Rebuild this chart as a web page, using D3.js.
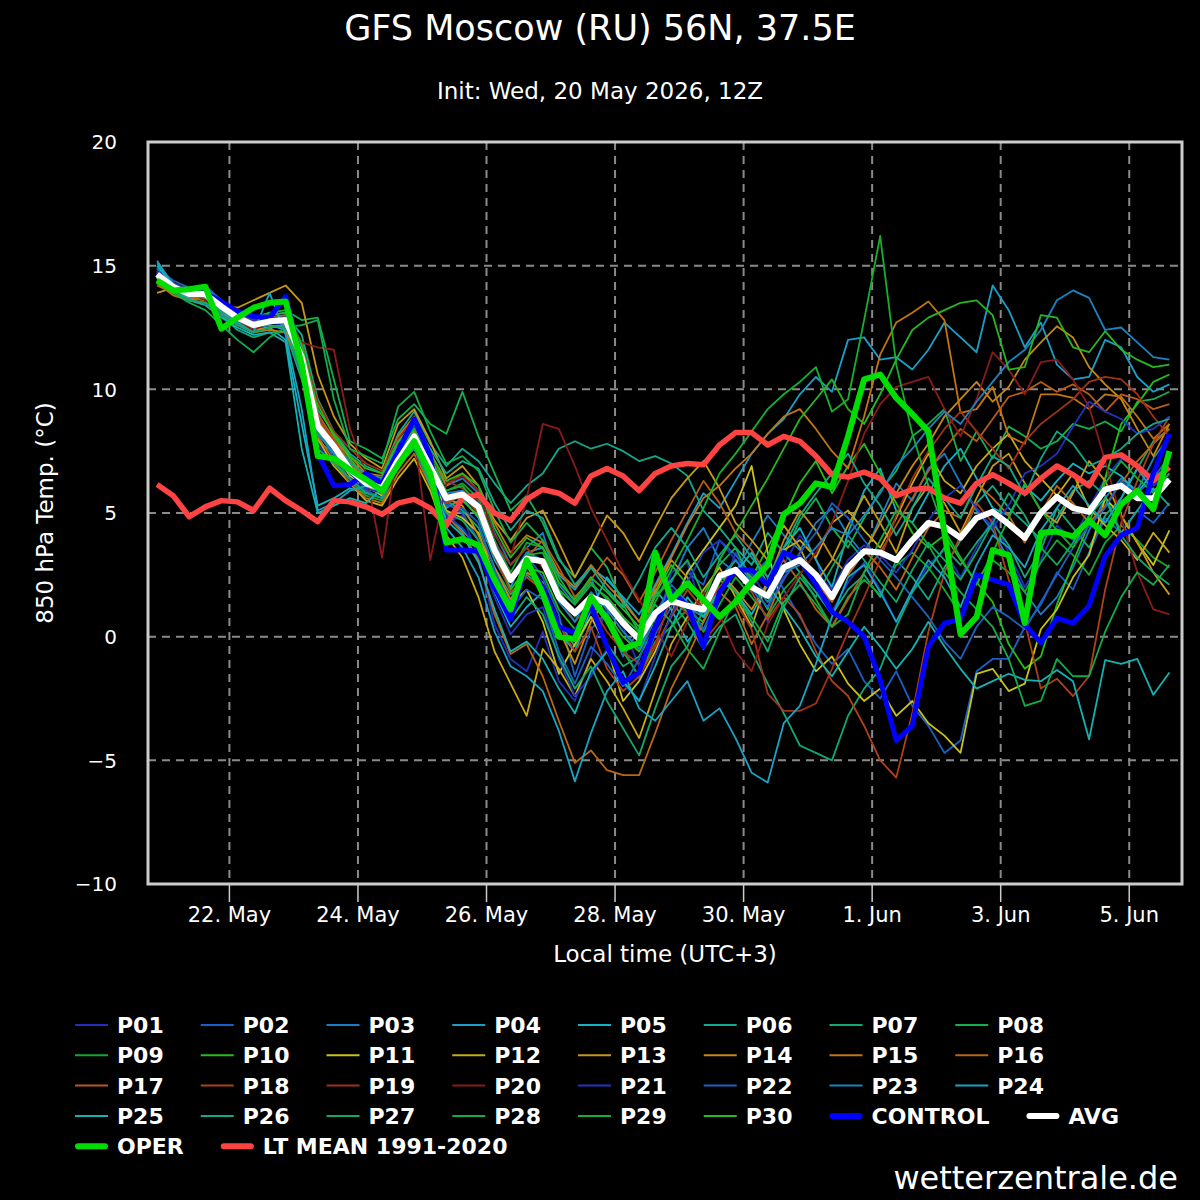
<!DOCTYPE html>
<html>
<head>
<meta charset="utf-8">
<script src="https://cdn.jsdelivr.net/npm/d3@7"></script>
<style>
  body { margin: 0; background: #000; }
  svg { display: block; font-family: "DejaVu Sans", sans-serif; }
</style>
</head>
<body>
<div id="chart"></div>
<script>
// first forecast step in local time (UTC+3), then every 6 hours
var startTime = "2026-05-20T21:00:00Z",
  stepHours = 6,
  firstTick = "2026-05-22T00:00:00Z";

var titleText = "GFS Moscow (RU) 56N, 37.5E",
  subtitleText = "Init: Wed, 20 May 2026, 12Z";

var yTicks = [-10, -5, 0, 5, 10, 15, 20];

var memberNames = ["P01","P02","P03","P04","P05","P06","P07","P08","P09","P10",
  "P11","P12","P13","P14","P15","P16","P17","P18","P19","P20",
  "P21","P22","P23","P24","P25","P26","P27","P28","P29","P30"];

var memberColors = ["#1f2fbf","#1a5fc7","#1a7ec4","#1b9fc9","#14b3c4","#12a98c","#11a972","#13b04e","#14a832","#24bf18",
  "#cbc314","#c9ab12","#c79912","#c58914","#c27512","#b96712","#b85a18","#ad4218","#a03218","#8b1a1a",
  "#2233c0","#1b62c2","#1a83c2","#1aa3c4","#14b3b3","#12a98a","#12a86a","#13ac4a","#15b030","#25b820"];

var p01 = [14.8,14.1,13.9,14.0,13.4,12.8,12.6,12.7, 12.6,10.5,7.8,6.9,6.4,5.9,5.6,7.4,
  8.5,6.2,4.6,4.9,3.2,0.5,-0.9,-1.4, 0.2,-1.8,-2.6,-0.8,1.3,0.4,-1.2,0.2,
  2.6,3.0,0.9,1.6,3.4,2.1,0.6,2.9, 4.1,3.2,1.0,2.2,3.0,1.9,0.6,1.8,
  2.9,3.5,2.4,3.6,4.8,3.4,2.0,3.1, 4.5,3.9,5.2,6.4,7.2,6.9,6.1,6.6];
var p02 = [14.7,14.2,13.8,13.7,13.3,13.0,12.7,12.9, 12.9,11.8,9.1,7.6,6.9,6.4,6.3,7.2,
  8.0,7.1,5.4,5.0,3.9,2.6,1.4,3.3, 2.4,0.9,-1.6,0.3,1.0,-0.4,-1.7,0.1,
  1.2,2.6,2.1,3.9,3.3,2.5,3.1,1.9, 0.8,-0.3,-1.1,-0.5,-1.8,-2.5,-1.4,-2.8,
  -3.6,-4.7,-4.2,-1.4,-0.9,-0.9,0.4,1.3, 2.6,1.9,3.4,4.8,4.2,5.1,4.6,5.4];
var p03 = [14.5,14.0,13.9,13.9,13.2,12.9,12.5,12.6, 12.5,11.0,8.8,7.9,7.1,6.3,6.1,7.8,
  8.7,7.2,6.1,6.4,5.8,4.2,2.9,3.6, 4.2,2.1,1.3,2.4,0.6,-0.8,0.3,1.7,
  2.2,3.6,4.4,3.1,2.6,3.8,4.9,4.1, 3.5,4.6,5.2,4.1,3.3,4.8,6.2,5.5,
  6.8,7.4,6.2,5.1,4.3,3.1,1.8,0.9, 1.6,2.8,4.3,5.6,6.4,5.9,7.2,8.1];
var p04 = [15.1,14.3,13.9,13.6,13.0,12.8,12.5,12.6, 12.4,10.8,8.2,7.6,6.8,6.0,5.8,7.0,
  7.9,6.5,5.2,5.6,4.8,3.1,2.0,3.4, 3.6,2.5,1.9,2.8,2.3,1.6,0.9,2.1,
  3.3,4.6,5.8,5.2,6.3,7.4,8.2,8.8, 9.8,10.5,9.9,12.0,12.1,11.2,11.3,10.8,
  11.6,12.7,12.1,11.5,14.2,13.2,11.7,12.7, 11.0,10.4,10.5,12.0,11.7,10.5,9.9,10.2];
var p05 = [14.9,14.0,13.6,13.5,13.1,12.6,12.3,12.5, 12.0,8.6,5.3,5.6,6.0,5.8,6.2,7.6,
  8.3,6.6,5.0,4.3,3.6,1.8,0.4,1.2, 1.8,0.2,-0.6,1.1,2.4,1.5,0.6,1.9,
  1.1,-0.2,0.6,2.3,1.8,0.9,2.1,3.6, 4.4,3.1,2.0,4.2,5.9,6.8,5.1,4.6,
  5.8,6.9,7.6,6.4,5.2,4.9,6.1,5.5, 6.3,7.0,6.6,6.9,6.5,5.8,6.7,6.2];
var p06 = [14.6,14.1,13.8,13.9,13.4,13.0,12.7,12.9, 13.0,12.2,9.6,8.3,7.4,6.9,6.6,8.2,
  9.1,7.8,6.9,7.6,7.1,6.2,5.4,6.1, 6.6,7.6,7.9,7.6,7.8,7.5,7.1,7.3,
  7.0,6.5,5.1,4.4,3.6,2.9,4.2,3.4, 2.6,1.8,0.9,1.9,2.5,1.6,3.1,2.4,
  1.5,2.8,3.9,5.4,6.1,5.2,4.6,3.9, 4.8,5.9,6.3,5.7,4.2,5.1,6.0,5.3];
var p07 = [14.4,13.9,13.6,13.5,13.0,12.4,12.1,12.3, 12.3,10.4,7.9,7.4,6.6,6.0,5.9,6.8,
  7.7,6.3,5.5,5.1,4.4,2.8,1.7,2.5, 2.0,0.6,-0.4,0.8,-0.3,-1.2,-0.8,0.4,
  1.4,0.6,-0.5,0.4,0.9,-0.6,-1.9,-3.1, -4.4,-4.7,-5.0,-3.2,-2.1,-1.3,0.4,1.8,
  2.7,3.6,2.9,3.8,4.6,3.7,2.4,3.5, 5.2,4.4,3.6,4.9,5.6,6.8,7.9,8.4];
var p08 = [14.7,14.2,13.9,14.1,13.6,13.2,12.9,13.1, 13.2,12.8,12.9,10.4,7.9,7.6,7.2,8.8,
  9.4,8.6,8.2,9.9,8.1,6.6,5.1,5.7, 4.6,3.1,2.4,3.6,2.8,1.3,0.2,1.6,
  2.3,3.1,1.7,2.9,3.6,2.2,1.1,3.3, 4.7,5.6,4.4,3.6,4.8,5.9,6.7,8.1,
  8.6,9.2,7.1,8.3,7.2,8.5,8.1,7.6, 7.9,8.6,8.4,8.7,8.3,9.5,9.6,9.9];
var p09 = [14.6,14.0,13.7,13.6,13.2,12.7,12.4,12.5, 12.6,11.5,8.3,7.4,6.3,5.7,5.5,6.9,
  7.6,6.8,5.9,6.2,5.6,3.9,2.6,3.8, 3.6,1.9,0.8,1.4,0.6,-0.6,-1.6,-0.2,
  0.4,1.1,0.2,1.3,2.4,1.6,0.8,1.9, 2.6,1.5,0.4,1.6,2.3,1.7,2.9,3.4,
  2.8,1.9,0.9,2.3,3.1,2.6,1.8,3.0, 3.9,3.3,2.5,3.8,4.5,3.9,3.2,2.8];
var p10 = [14.5,14.1,13.9,13.8,13.3,12.9,12.6,12.8, 12.9,11.9,9.4,8.1,7.2,6.4,6.2,7.5,
  8.4,7.3,5.8,5.5,4.9,3.3,1.9,2.8, 2.6,1.1,0.3,1.2,0.9,0.0,-0.6,0.7,
  1.7,1.0,0.6,2.2,3.1,2.4,3.6,4.8, 6.2,7.1,5.8,6.9,7.8,6.6,5.4,4.2,
  3.6,4.1,3.1,2.2,1.4,-0.3,-1.3,-0.8, 1.3,3.0,4.6,6.4,8.6,9.4,10.3,10.6];
var p11 = [14.4,13.9,13.8,13.7,13.2,12.8,12.5,12.7, 12.7,11.6,8.6,7.5,6.5,6.1,5.7,6.9,
  7.9,6.4,5.1,4.8,4.2,2.4,1.3,1.9, 0.6,-1.5,-0.3,0.8,-0.4,-2.6,-1.8,-0.6,
  0.9,2.6,3.5,4.4,5.3,6.9,3.4,1.1, -0.3,-1.4,-0.8,-1.9,-2.6,-2.1,-3.2,-2.6,
  -3.5,-4.0,-4.7,-1.5,-1.3,-2.2,-1.9,0.3, 1.1,2.4,3.3,5.6,4.9,3.8,2.9,4.3];
var p12 = [14.5,14.0,13.7,13.8,13.3,12.9,12.6,12.8, 12.9,11.7,8.0,6.9,6.2,5.5,5.3,6.4,
  7.2,5.9,4.1,3.2,1.6,-0.6,-1.9,-3.2, -0.5,-1.3,-2.4,-0.9,-1.8,-2.9,-4.1,-2.2,
  -0.3,0.8,1.9,2.8,1.6,0.4,2.3,3.5, 3.9,3.2,4.6,5.1,4.3,3.6,4.8,6.2,
  7.4,6.3,5.8,6.9,7.6,8.2,7.1,6.4, 5.7,6.6,5.2,4.5,3.9,3.1,4.2,3.4];
var p13 = [13.9,14.1,13.6,13.7,13.4,13.3,13.6,13.9, 14.2,13.5,10.6,8.9,7.8,7.2,6.8,8.6,
  9.2,7.9,6.4,6.9,6.1,4.7,3.9,4.8, 5.1,3.8,2.4,3.6,4.9,4.2,3.1,4.4,
  5.6,6.4,7.1,6.0,4.6,3.9,3.1,4.5, 3.6,2.2,3.1,4.5,5.7,4.6,3.4,5.2,
  6.1,5.4,4.2,5.6,6.9,7.4,6.2,5.1, 4.6,5.8,7.1,6.3,4.9,3.8,2.6,1.7];
var p14 = [14.6,14.2,13.9,13.7,13.1,12.7,12.4,12.5, 12.6,11.2,8.4,7.7,6.9,6.5,6.3,7.6,
  8.3,6.9,5.6,5.3,4.1,2.8,1.5,2.6, 2.2,0.3,-1.1,0.6,1.6,0.8,-0.2,1.8,
  3.1,2.4,1.2,2.6,1.9,1.1,2.2,3.9, 5.1,4.3,3.2,2.5,3.4,4.6,5.8,6.9,
  7.8,8.9,9.6,10.3,9.5,10.1,11.2,11.9, 12.55,12.1,10.9,10.2,9.6,8.4,7.3,8.6];
var p15 = [14.3,13.8,13.6,13.5,13.0,12.6,12.3,12.4, 12.3,10.9,8.7,7.9,7.3,6.6,6.5,8.1,
  8.9,7.5,6.1,6.6,5.9,4.6,3.4,4.1, 3.8,2.6,2.0,2.9,2.1,1.4,0.6,2.0,
  3.2,4.5,5.6,6.1,6.8,7.4,8.2,8.9, 9.2,8.4,7.5,6.8,8.9,11.4,12.7,13.1,
  13.55,12.8,9.05,9.2,10.1,8.1,7.8,9.8, 9.8,9.65,9.2,9.8,9.7,8.9,8.0,8.6];
var p16 = [14.2,13.9,13.7,13.6,13.2,12.8,12.5,12.7, 12.8,11.4,8.1,7.1,6.2,5.6,5.4,6.6,
  7.4,6.1,4.9,4.2,3.1,0.9,-0.7,-0.3, -1.6,-3.4,-5.1,-4.6,-5.4,-5.6,-5.6,-3.9,
  -2.1,-0.8,0.6,1.8,1.2,-0.3,0.9,2.4, 3.1,2.2,1.4,2.6,3.5,2.8,1.9,3.2,
  4.4,5.1,4.8,6.2,5.6,4.9,3.8,5.0, 6.1,5.4,4.6,5.3,6.2,7.1,7.8,8.4];
var p17 = [14.5,14.0,13.8,13.9,13.4,13.0,12.8,12.9, 13.0,11.9,9.0,8.0,7.0,6.5,6.3,7.3,
  8.1,7.0,5.7,5.9,5.2,3.7,2.5,3.2, 3.9,2.8,1.6,2.3,3.2,2.5,1.4,2.6,
  3.9,5.1,6.3,5.4,4.2,3.5,2.4,3.1, 2.2,1.1,0.4,1.5,2.6,3.4,4.5,5.6,
  6.7,7.6,8.4,7.9,8.8,9.7,9.9,10.3, 9.9,10.2,9.8,9.1,9.8,9.6,9.2,9.4];
var p18 = [14.7,14.3,14.0,13.9,13.3,12.9,12.6,12.8, 12.9,11.6,8.9,7.9,6.8,6.1,5.9,7.3,
  8.0,6.6,5.4,5.7,5.0,3.3,1.8,2.4, 1.9,0.5,-0.6,0.4,-1.3,-2.2,-1.6,-0.4,
  0.8,1.9,1.1,2.0,2.8,1.8,0.7,1.6, 0.9,-0.6,-1.8,-2.4,-3.6,-5.0,-5.7,-3.1,
  0.2,2.6,4.1,5.4,4.6,2.3,0.6,-2.1, -1.7,-2.4,-1.6,1.9,4.6,6.3,7.8,8.9];
var p19 = [14.6,14.1,13.8,13.8,13.2,12.9,12.6,12.8, 12.9,11.8,9.5,8.3,7.6,7.0,6.7,8.0,
  8.8,7.4,6.3,6.0,5.5,3.8,2.9,3.6, 2.8,1.6,0.6,1.3,0.2,-0.6,-1.1,-0.3,
  1.6,0.9,-0.2,0.6,1.4,0.3,-2.3,-3.0, -3.0,-2.7,-1.3,0.2,1.6,3.1,4.9,6.4,
  7.5,8.4,9.1,8.3,7.6,6.8,7.9,8.6, 9.1,9.6,10.3,10.5,10.4,9.8,8.9,8.1];
var p20 = [14.4,14.2,13.9,13.6,13.1,12.7,12.4,12.7, 12.9,11.9,11.7,11.6,8.4,6.6,3.2,7.8,
  8.2,3.1,6.2,6.5,5.9,4.1,3.2,5.6, 8.6,8.4,6.9,5.2,3.9,2.6,1.5,0.4,
  -0.8,0.6,1.8,0.9,-0.6,-1.4,0.5,1.6, 2.5,3.4,4.6,6.3,8.2,9.4,10.1,10.3,
  10.5,9.2,8.1,9.6,11.5,10.8,9.8,11.1, 11.2,10.4,9.3,7.1,4.8,2.6,1.1,0.9];
var p21 = [14.8,14.3,14.0,13.9,13.5,13.1,12.8,12.9, 12.9,11.4,8.6,7.5,6.6,6.0,5.8,7.1,
  7.9,6.5,4.9,4.4,3.5,1.6,0.1,0.9, 1.2,-0.9,-2.4,-1.6,-0.5,-1.9,-2.6,-0.8,
  0.9,2.2,3.4,3.9,3.1,2.5,1.6,2.4, 3.3,2.6,1.9,3.1,3.7,3.3,2.6,3.5,
  4.7,5.6,6.1,5.2,4.4,5.3,6.6,6.9, 7.4,8.5,9.5,9.1,8.8,8.2,8.4,8.9];
var p22 = [14.9,14.4,14.1,14.2,13.6,13.2,12.9,13.0, 13.1,11.7,8.4,7.2,6.3,5.9,5.6,7.0,
  7.8,6.7,5.3,5.2,4.6,2.7,1.1,1.9, 1.5,-0.6,-1.9,-0.4,-1.1,-2.0,-0.9,0.9,
  2.1,1.4,0.3,1.7,2.6,1.9,1.2,2.3, 3.4,4.2,5.4,4.8,3.9,3.1,2.4,1.6,
  0.8,-0.2,-0.9,0.4,1.2,0.8,0.3,1.4, 2.5,3.6,4.5,5.2,6.3,5.8,6.4,7.3];
var p23 = [14.6,14.1,13.8,13.8,13.3,12.9,12.7,12.8, 12.7,11.1,8.2,7.4,6.6,6.2,5.9,7.3,
  8.2,6.9,5.8,5.9,5.4,3.8,2.4,3.4, 3.1,1.4,0.6,1.8,1.1,0.2,-0.5,0.9,
  1.9,1.2,0.8,2.4,3.1,2.2,1.4,2.6, 2.9,3.6,4.4,4.1,4.9,5.8,6.9,7.6,
  8.4,9.1,8.6,9.5,10.3,11.1,11.6,12.4, 13.6,14.0,13.7,12.4,12.5,11.9,11.3,11.2];
var p24 = [15.2,14.2,13.7,13.8,13.1,12.7,12.3,13.9, 12.2,9.2,5.1,5.4,5.9,6.1,5.9,7.1,
  7.9,6.1,4.4,3.6,2.4,0.2,-1.2,-1.6, -2.2,-3.8,-5.85,-3.9,-2.2,-1.4,-2.9,-3.4,
  -2.6,-1.8,-3.4,-2.9,-4.1,-5.5,-5.9,-3.5, -2.8,-1.1,0.8,2.4,2.9,1.8,0.6,1.9,
  3.1,2.4,1.2,2.9,4.1,3.6,2.8,4.3, 5.2,6.1,5.3,4.6,5.6,6.8,5.9,6.4];
var p25 = [15.0,14.2,13.6,13.4,12.9,12.5,12.2,12.3, 11.9,7.6,5.0,5.3,5.6,5.4,6.0,7.2,
  8.1,6.4,4.7,4.1,3.0,1.1,-0.6,-0.2, -0.9,-2.1,-3.1,-1.4,-0.6,-1.8,-2.6,-1.2,
  0.4,1.6,0.8,1.9,2.6,3.4,2.1,1.2, 0.3,-0.8,-1.6,-0.6,0.4,-0.4,-1.3,-0.5,
  0.6,-0.4,-1.3,-2.1,-1.8,-1.5,-1.75,-1.8, -1.35,-1.8,-4.15,-0.95,-1.1,-0.9,-2.35,-1.45];
var p26 = [14.7,14.2,13.9,13.8,13.2,12.8,12.5,12.7, 12.8,11.5,8.4,7.8,7.0,6.6,6.4,7.9,
  8.6,7.6,6.6,7.1,6.8,5.4,4.3,5.1, 4.8,3.2,2.1,2.8,1.9,1.2,2.3,3.6,
  4.4,3.6,2.4,3.3,4.1,3.2,2.4,3.6, 4.9,5.8,6.6,7.4,6.2,5.3,4.1,5.2,
  6.4,5.6,4.8,6.1,7.3,6.9,5.7,7.2, 8.3,7.8,6.9,7.2,7.6,8.2,8.6,8.8];
var p27 = [14.5,14.0,13.6,13.5,13.0,12.6,12.3,12.5, 12.6,10.6,7.6,7.0,6.4,5.8,5.6,7.0,
  7.6,6.2,5.0,4.7,3.9,2.1,0.7,1.6, 0.9,-0.8,-2.1,-1.2,-2.6,-3.7,-4.8,-2.9,
  -1.2,-0.4,1.1,2.5,1.8,0.6,-0.6,1.2, 2.4,1.6,2.8,3.9,3.1,2.2,1.4,2.7,
  3.8,3.1,2.3,3.4,4.6,5.8,4.9,3.6, 2.9,3.8,4.9,5.6,4.1,3.2,2.6,2.1];
var p28 = [14.4,13.9,13.5,13.2,12.6,12.0,11.5,12.1, 12.5,12.6,12.8,9.6,7.6,7.3,7.0,9.3,
  9.9,8.3,7.0,7.3,6.7,5.1,3.8,4.6, 3.9,2.4,1.4,2.2,1.5,0.6,0.1,1.3,
  0.6,-0.5,-1.3,0.2,1.6,0.8,-0.2,1.4, 2.1,1.3,0.4,0.9,2.6,3.9,5.1,4.6,
  3.7,2.6,1.8,1.1,0.4,-0.9,-2.8,-2.6, -0.9,-1.6,-1.6,0.2,1.6,2.6,2.1,2.9];
var p29 = [14.6,14.1,13.8,13.7,13.2,12.9,12.6,12.7, 12.7,11.0,8.3,7.6,6.8,6.3,6.1,7.4,
  8.4,7.0,5.9,6.1,5.3,3.6,2.2,3.3, 3.4,1.9,1.3,2.1,1.6,0.8,0.2,1.4,
  2.7,3.9,5.2,6.6,7.4,8.3,9.2,9.8, 10.3,10.9,9.1,9.6,12.8,16.2,11.0,8.2,
  6.1,4.3,3.2,2.1,3.4,4.8,6.2,5.1, 4.3,3.6,4.9,6.2,7.1,6.4,5.8,6.6];
var p30 = [14.7,14.1,13.8,13.9,13.4,13.1,12.9,13.0, 13.1,11.8,9.2,8.2,7.3,6.8,6.6,7.9,
  8.6,7.4,6.3,6.6,6.1,4.4,3.2,4.0, 3.6,2.2,1.5,2.4,1.8,1.1,0.4,1.7,
  2.9,2.1,1.4,3.1,4.2,5.3,6.4,7.6, 8.8,9.6,10.4,9.2,8.6,9.8,11.2,12.4,
  12.9,13.2,13.5,13.6,13.0,10.8,10.9,13.0, 12.9,11.7,11.5,12.35,11.6,11.2,10.9,11.0];

var members = [p01,p02,p03,p04,p05,p06,p07,p08,p09,p10,p11,p12,p13,p14,p15,
  p16,p17,p18,p19,p20,p21,p22,p23,p24,p25,p26,p27,p28,p29,p30];

var control = [14.7,14.15,13.85,13.9,13.55,13.15,12.95,12.9, 13.75,11.0,7.4,6.1,6.15,6.6,6.2,7.5,
  8.8,7.3,3.5,3.5,3.45,2.0,0.7,3.0, 2.0,0.4,0.15,1.25,-0.4,-1.85,-1.45,0.4,
  1.8,1.25,-0.4,1.8,2.7,2.7,2.1,3.4, 3.1,2.1,1.0,0.6,0.0,-1.75,-4.2,-3.6,
  -0.4,0.55,0.7,2.5,2.3,2.1,0.5,-0.25, 0.75,0.55,1.25,3.25,4.1,4.4,6.6,8.2];
var avg = [14.65,14.15,13.85,13.85,13.35,12.9,12.6,12.75, 12.8,11.3,8.5,7.7,6.75,6.2,6.0,7.15,
  8.1,6.85,5.6,5.75,5.25,3.5,2.3,3.15, 3.05,1.6,0.95,1.6,1.35,0.55,-0.1,0.95,
  1.45,1.25,1.1,2.45,2.7,2.0,1.65,2.8, 3.1,2.5,1.6,2.8,3.45,3.4,3.1,3.9,
  4.6,4.45,4.0,4.8,5.05,4.55,4.0,5.0, 5.65,5.2,5.05,5.95,6.1,5.6,5.6,6.35];
var oper = [14.4,14.0,14.05,14.15,12.45,12.9,13.3,13.5, 13.55,11.0,7.3,7.2,6.75,6.35,5.9,6.95,
  7.9,6.6,3.8,3.95,3.7,2.3,1.1,3.1, 1.75,0.0,-0.1,1.6,0.7,-0.5,-0.25,3.4,
  1.5,2.15,1.5,0.8,1.4,2.2,2.9,4.95, 5.4,6.2,6.05,8.1,10.4,10.6,9.65,9.0,
  8.3,4.2,0.1,0.8,3.5,3.3,0.55,4.2, 4.25,4.05,4.7,4.1,5.35,5.9,5.15,7.5];
var ltMean = [6.15,5.7,4.85,5.25,5.5,5.45,5.1,6.0, 5.5,5.1,4.65,5.5,5.45,5.25,4.95,5.4,
  5.55,5.2,4.5,5.6,5.75,5.0,4.7,5.55, 5.95,5.8,5.4,6.5,6.8,6.5,5.9,6.6,
  6.9,7.0,6.95,7.75,8.25,8.25,7.75,8.1, 7.9,7.3,6.55,6.45,6.65,6.4,5.7,5.95,
  6.0,5.6,5.4,6.2,6.55,6.2,5.8,6.4, 6.9,6.55,6.1,7.25,7.35,6.9,6.3,6.85];

(function () {
  "use strict";

  var w = 1200,
    h = 1200,
    plot = { left: 148, top: 142, right: 1182, bottom: 884 },
    svg,
    x,
    y,
    line,
    t0 = new Date(startTime);

  function timeAt(i) {
    return d3.utcHour.offset(t0, i * stepHours);
  }

  function createSvg() {
    svg = d3.select("#chart")
      .append("svg")
      .attr("width", w)
      .attr("height", h);

    svg.append("rect")
      .attr("width", w)
      .attr("height", h)
      .attr("fill", "#000");
  }

  function getScales() {
    var tEnd = timeAt(avg.length - 1);
    // a few hours of padding on both sides, as in the original
    x = d3.scaleUtc()
      .domain([d3.utcMinute.offset(t0, -204), d3.utcMinute.offset(tEnd, 282)])
      .range([plot.left, plot.right]);

    y = d3.scaleLinear()
      .domain([-10, 20])
      .range([plot.bottom, plot.top]);

    line = d3.line()
      .x(function (d, i) { return x(timeAt(i)); })
      .y(function (d) { return y(d); });
  }

  function addText(px, py, size, anchor, str) {
    return svg.append("text")
      .attr("x", px)
      .attr("y", py)
      .attr("text-anchor", anchor)
      .attr("fill", "#fff")
      .style("font-size", size + "px")
      .text(str);
  }

  function drawTitles() {
    addText(600, 40, 35, "middle", titleText);
    addText(600, 99, 23, "middle", subtitleText);
    addText((plot.left + plot.right) / 2, 962, 23, "middle", "Local time (UTC+3)");
    addText(0, 0, 23, "middle", "850 hPa Temp. (°C)")
      .attr("transform", "translate(53," + (plot.top + plot.bottom) / 2 + ") rotate(-90)");
    addText(1178, 1189, 32, "end", "wetterzentrale.de");
  }

  function drawGrid() {
    var xTicks = d3.utcDay.range(new Date(firstTick), x.domain()[1], 2),
      fmt = d3.utcFormat("%-d. %b"),
      grid = svg.append("g")
        .attr("stroke", "#8a8a8a")
        .attr("stroke-width", 2)
        .attr("stroke-dasharray", "8,6");

    grid.selectAll(".vgrid")
      .data(xTicks)
      .enter().append("line")
      .attr("class", "vgrid")
      .attr("x1", function (d) { return x(d); })
      .attr("x2", function (d) { return x(d); })
      .attr("y1", plot.top)
      .attr("y2", plot.bottom);

    grid.selectAll(".hgrid")
      .data(yTicks)
      .enter().append("line")
      .attr("class", "hgrid")
      .attr("x1", plot.left)
      .attr("x2", plot.right)
      .attr("y1", function (d) { return y(d); })
      .attr("y2", function (d) { return y(d); });

    // small tick marks below the frame
    svg.selectAll(".xtick")
      .data(xTicks)
      .enter().append("line")
      .attr("class", "xtick")
      .attr("x1", function (d) { return x(d); })
      .attr("x2", function (d) { return x(d); })
      .attr("y1", plot.bottom)
      .attr("y2", plot.bottom + 18)
      .attr("stroke", "#cccccc")
      .attr("stroke-width", 1.5);

    svg.selectAll(".xlab")
      .data(xTicks)
      .enter().append("text")
      .attr("class", "xlab")
      .attr("x", function (d) { return x(d); })
      .attr("y", 922)
      .attr("text-anchor", "middle")
      .attr("fill", "#fff")
      .style("font-size", "21px")
      .text(fmt);

    svg.selectAll(".ylab")
      .data(yTicks)
      .enter().append("text")
      .attr("class", "ylab")
      .attr("x", 117)
      .attr("y", function (d) { return y(d); })
      .attr("dy", "0.36em")
      .attr("text-anchor", "end")
      .attr("fill", "#fff")
      .style("font-size", "20px")
      .text(function (d) { return d < 0 ? "\u2212" + Math.abs(d) : d; });
  }

  function drawLines() {
    svg.append("clipPath")
      .attr("id", "plotclip")
      .append("rect")
      .attr("x", plot.left)
      .attr("y", plot.top)
      .attr("width", plot.right - plot.left)
      .attr("height", plot.bottom - plot.top);

    var g = svg.append("g")
      .attr("clip-path", "url(#plotclip)")
      .attr("fill", "none")
      .attr("stroke-linejoin", "round");

    g.selectAll(".member")
      .data(members)
      .enter().append("path")
      .attr("class", "member")
      .attr("d", line)
      .attr("stroke", function (d, i) { return memberColors[i]; })
      .attr("stroke-width", 1.8);

    // bold series on top of the ensemble
    [[ltMean, "#ff4343", 5.5], [control, "#0000ff", 5], [avg, "#ffffff", 6], [oper, "#00dd00", 6]]
      .forEach(function (s) {
        g.append("path")
          .attr("d", line(s[0]))
          .attr("stroke", s[1])
          .attr("stroke-width", s[2]);
      });

    svg.append("rect")
      .attr("x", plot.left)
      .attr("y", plot.top)
      .attr("width", plot.right - plot.left)
      .attr("height", plot.bottom - plot.top)
      .attr("fill", "none")
      .attr("stroke", "#cccccc")
      .attr("stroke-width", 3);
  }

  function drawLegend() {
    var items = memberNames.map(function (n, i) {
        return { name: n, color: memberColors[i], bold: false };
      }).concat([
        { name: "CONTROL", color: "#0000ff", bold: true },
        { name: "AVG", color: "#ffffff", bold: true },
        { name: "OPER", color: "#00dd00", bold: true },
        { name: "LT MEAN 1991-2020", color: "#ff4343", bold: true }
      ]),
      lx = 75,
      ly = 1025,
      legend = svg.append("g");

    items.forEach(function (d) {
      var item = legend.append("g"),
        label = item.append("text")
          .attr("x", 42)
          .attr("dy", "0.36em")
          .attr("fill", "#fff")
          .style("font-size", "22px")
          .style("font-weight", "bold")
          .text(d.name),
        tw = label.node().getComputedTextLength();

      if (lx + 42 + tw > 1140) {
        lx = 75;
        ly += 30.3;
      }
      item.attr("transform", "translate(" + lx + "," + ly + ")");

      item.append("line")
        .attr("x1", d.bold ? 3 : 0)
        .attr("x2", d.bold ? 30 : 33)
        .attr("stroke", d.color)
        .attr("stroke-width", d.bold ? 6 : 2)
        .attr("stroke-linecap", d.bold ? "round" : "butt");

      lx += 42 + tw + 37;
    });
  }

  function makeChart() {
    createSvg();
    getScales();
    drawGrid();
    drawLines();
    drawTitles();
    drawLegend();
  }

  makeChart();
})();
</script>
</body>
</html>
